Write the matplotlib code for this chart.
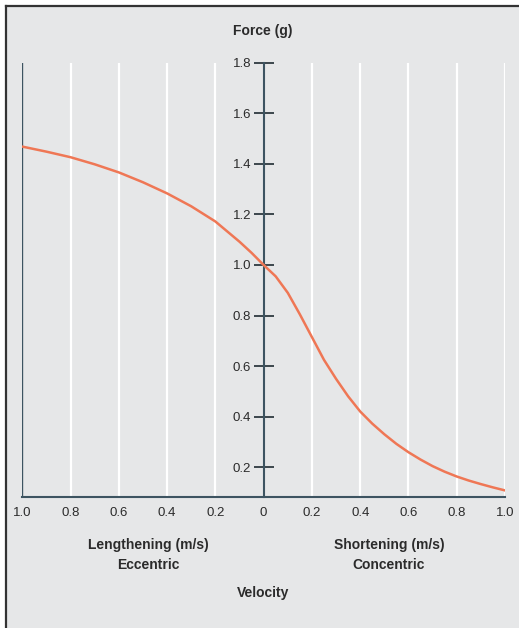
import matplotlib
matplotlib.use("Agg")
import matplotlib.pyplot as plt
from matplotlib import font_manager
from matplotlib.patches import Rectangle
from matplotlib.lines import Line2D

# velocity: negative = lengthening (eccentric), positive = shortening (concentric)
velocity = [-1.0, -0.9, -0.8, -0.7, -0.6, -0.5, -0.4, -0.3, -0.2, -0.1, -0.05, 0.0,
            0.05, 0.1, 0.15, 0.2, 0.25, 0.3, 0.35, 0.4, 0.45, 0.5,
            0.55, 0.6, 0.65, 0.7, 0.75, 0.8, 0.85, 0.9, 0.95, 1.0]
force = [1.468, 1.448, 1.426, 1.398, 1.366, 1.327, 1.283, 1.232, 1.172, 1.092, 1.048, 1.0,
         0.955, 0.89, 0.805, 0.715, 0.625, 0.55, 0.481, 0.421, 0.373, 0.331,
         0.293, 0.26, 0.231, 0.205, 0.183, 0.164, 0.148, 0.134, 0.121, 0.109]
y_ticks = [0.2, 0.4, 0.6, 0.8, 1.0, 1.2, 1.4, 1.6, 1.8]
x_ticks = [-1.0, -0.8, -0.6, -0.4, -0.2, 0.0, 0.2, 0.4, 0.6, 0.8, 1.0]
x_labels = ["1.0", "0.8", "0.6", "0.4", "0.2", "0", "0.2", "0.4", "0.6", "0.8", "1.0"]

names = {f.name for f in font_manager.fontManager.ttflist}
fam = "Liberation Sans Narrow" if "Liberation Sans Narrow" in names else "Liberation Sans"
plt.rcParams["font.family"] = [fam, "DejaVu Sans"]

W, H = 519, 628
BG = "#e6e7e8"
DARK = "#3d5461"
CURVE = "#ef7755"
TXT = "#2b2b2b"

fig = plt.figure(figsize=(W / 100, H / 100), dpi=100)
fig.patch.set_facecolor("white")


def fx(px):
    return px / W


def fy(py):
    return 1 - py / H


# gray panel with dark top/left border
fig.patches.append(Rectangle((fx(6), 0), 1 - fx(6), fy(6), transform=fig.transFigure,
                             facecolor=BG, edgecolor="none", zorder=-5))
fig.lines.append(Line2D([fx(6), 1], [fy(6), fy(6)], transform=fig.transFigure,
                        color="#333333", lw=1.6, zorder=-4))
fig.lines.append(Line2D([fx(6), fx(6)], [0, fy(6)], transform=fig.transFigure,
                        color="#333333", lw=1.6, zorder=-4))

left, right, top, bottom = 22.3, 505, 62.6, 497
ax = fig.add_axes([fx(left), fy(bottom), fx(right - left), (bottom - top) / H])
ax.set_zorder(1)
ax.set_facecolor("none")
ax.set_xlim(-1, 1)
ax.set_ylim(0.083, 1.8)

for x in x_ticks:
    if x not in (-1.0, 0.0):
        ax.axvline(x, color="white", lw=1.6, zorder=1)

ax.plot(velocity, force, color=CURVE, lw=1.8, zorder=3,
        solid_capstyle="round", solid_joinstyle="round")

ax.spines["top"].set_visible(False)
ax.spines["right"].set_visible(False)
ax.spines["bottom"].set_color(DARK)
ax.spines["bottom"].set_linewidth(1.5)
ax.spines["left"].set_position(("data", 0))
ax.spines["left"].set_color(DARK)
ax.spines["left"].set_linewidth(1.5)
ax.axvline(-1, color=DARK, lw=1.7, zorder=2)

ax.set_yticks(y_ticks)
ax.set_yticklabels([f"{v:.1f}" for v in y_ticks])
ax.tick_params(axis="y", direction="inout", length=14, width=1.3, color="#2f3a40",
               labelsize=9.5, labelcolor=TXT, pad=2)
ax.set_xticks(x_ticks)
ax.set_xticklabels(x_labels)
ax.tick_params(axis="x", length=0, labelsize=9.5, labelcolor=TXT, pad=7)

bold = dict(fontsize=10, fontweight="bold", color=TXT, ha="center", va="center")
fig.text(fx(263), fy(31), "Force (g)", **bold)
fig.text(fx(148), fy(545), "Lengthening (m/s)", **bold)
fig.text(fx(148), fy(565), "Eccentric", **bold)
fig.text(fx(389), fy(545), "Shortening (m/s)", **bold)
fig.text(fx(389), fy(565), "Concentric", **bold)
fig.text(fx(263), fy(593), "Velocity", **bold)

fig.savefig("out.png", dpi=100, facecolor=fig.get_facecolor())
